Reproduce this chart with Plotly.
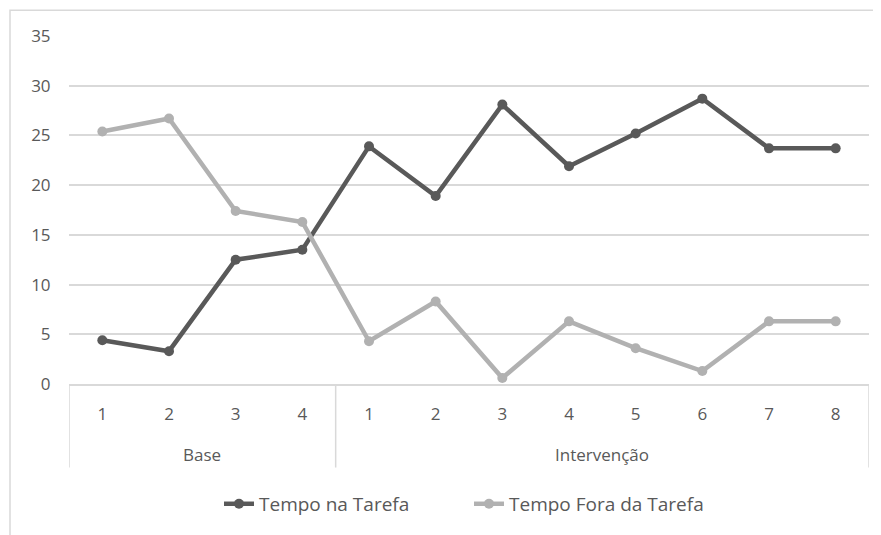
import plotly.graph_objects as go

phases = ["Base"] * 4 + ["Intervenção"] * 8
sessions = ["1", "2", "3", "4", "1", "2", "3", "4", "5", "6", "7", "8"]
tempo_na_tarefa = [4.4, 3.3, 12.5, 13.5, 23.9, 18.9, 28.1, 21.9, 25.2, 28.7, 23.7, 23.7]
tempo_fora_tarefa = [25.4, 26.7, 17.4, 16.3, 4.3, 8.3, 0.6, 6.3, 3.6, 1.3, 6.3, 6.3]
y_ticks = [0, 5, 10, 15, 20, 25, 30, 35]

font_family = "Open Sans, Noto Sans, sans-serif"
text_color = "#595959"
grid_color = "#d9d9d9"

x_pos = list(range(len(sessions)))

fig = go.Figure()
fig.add_trace(go.Scatter(
    x=x_pos, y=tempo_na_tarefa, name="Tempo na Tarefa",
    mode="lines+markers",
    line=dict(color="#595959", width=4.5),
    marker=dict(color="#595959", size=10),
))
fig.add_trace(go.Scatter(
    x=x_pos, y=tempo_fora_tarefa, name="Tempo Fora da Tarefa",
    mode="lines+markers",
    line=dict(color="#b1b1b1", width=4.5),
    marker=dict(color="#b1b1b1", size=10),
))

# group labels and dividers derived from the phases list
groups = []
for i, p in enumerate(phases):
    if not groups or groups[-1][0] != p:
        groups.append([p, i, i])
    else:
        groups[-1][2] = i

shapes = []
annotations = []
bounds = sorted({g[1] - 0.5 for g in groups} | {g[2] + 0.5 for g in groups})
for b in bounds:
    shapes.append(dict(type="line", xref="x", yref="paper", x0=b, x1=b,
                       y0=0, y1=-0.24, line=dict(color=grid_color, width=1.5)))
for name, i0, i1 in groups:
    annotations.append(dict(x=(i0 + i1) / 2, y=-0.203, xref="x", yref="paper",
                            text=name, showarrow=False, yanchor="middle",
                            font=dict(size=17, color=text_color)))

# outer chart border
shapes.append(dict(type="rect", xref="paper", yref="paper",
                   x0=-0.07375, x1=1.1, y0=-0.6, y1=1.074,
                   line=dict(color=grid_color, width=1.5), layer="below"))

fig.update_layout(
    width=873, height=527,
    margin=dict(l=61, r=12, t=28, b=149),
    paper_bgcolor="white", plot_bgcolor="white",
    font=dict(family=font_family, size=17, color=text_color),
    showlegend=True,
    legend=dict(orientation="h", x=0.5, xanchor="center", y=-0.29, yanchor="top",
                font=dict(size=19, color=text_color),
                entrywidth=205, entrywidthmode="pixels"),
    xaxis=dict(
        range=[-0.5, len(sessions) - 0.5],
        tickvals=x_pos, ticktext=sessions,
        showgrid=False, zeroline=False,
        showline=True, linecolor=grid_color, linewidth=1.5,
        ticks="outside", ticklen=14, tickcolor="rgba(0,0,0,0)",
        tickfont=dict(size=17, color=text_color),
        automargin=False,
    ),
    yaxis=dict(
        range=[0, 35], tickvals=y_ticks,
        showgrid=True, gridcolor=grid_color, gridwidth=1.5,
        zeroline=False, showline=False,
        ticks="outside", ticklen=14, tickcolor="rgba(0,0,0,0)",
        tickfont=dict(size=17, color=text_color),
        automargin=False,
    ),
    shapes=shapes,
    annotations=annotations,
)

fig.write_html("out.html")
